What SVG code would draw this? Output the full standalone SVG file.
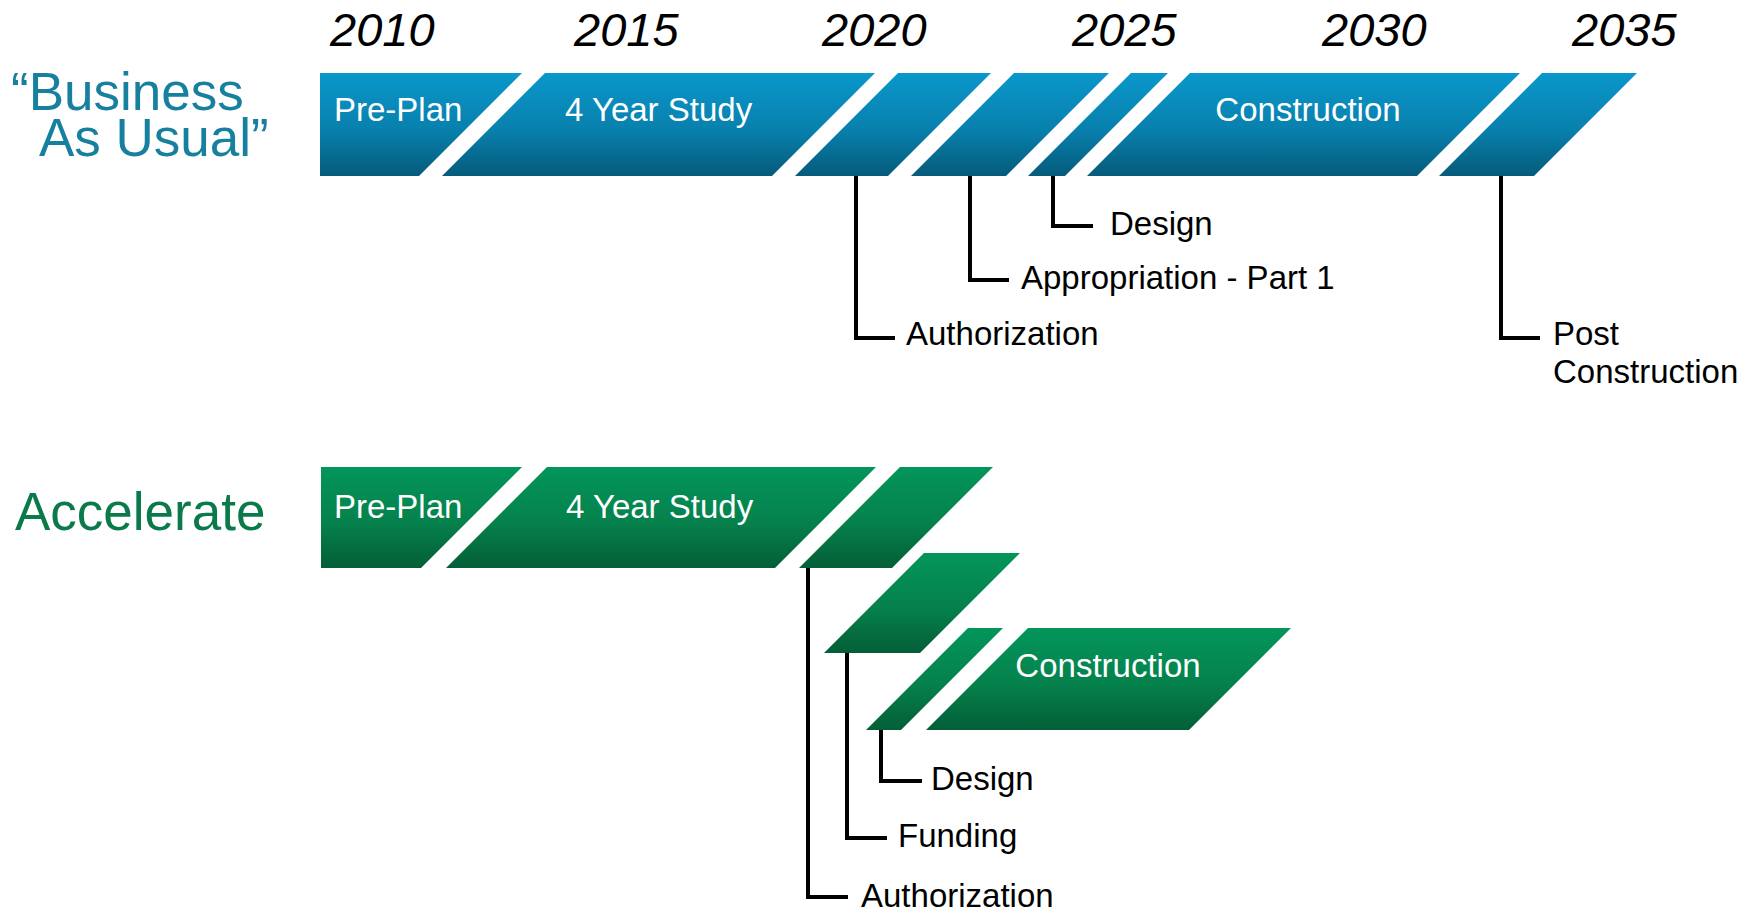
<svg xmlns="http://www.w3.org/2000/svg" width="1754" height="912" viewBox="0 0 1754 912">
<defs>
<linearGradient id="gBlue" x1="0" y1="0" x2="0" y2="1">
<stop offset="0" stop-color="#0a97cb"/>
<stop offset="0.55" stop-color="#0880ad"/>
<stop offset="1" stop-color="#055b7b"/>
</linearGradient>
<linearGradient id="gGreen" x1="0" y1="0" x2="0" y2="1">
<stop offset="0" stop-color="#03955b"/>
<stop offset="0.55" stop-color="#05814c"/>
<stop offset="1" stop-color="#045e37"/>
</linearGradient>
<style>
.blue{fill:url(#gBlue);}
.green{fill:url(#gGreen);}
.year{font-family:"Liberation Sans",Arial,sans-serif;font-style:italic;font-size:47px;fill:#000;}
.seg{font-family:"Liberation Sans",Arial,sans-serif;font-size:33px;fill:#fff;}
.lbl{font-family:"Liberation Sans",Arial,sans-serif;font-size:33px;fill:#000;}
.title{font-family:"Liberation Sans",Arial,sans-serif;font-size:53px;}
.conn{fill:none;stroke:#000;stroke-width:4;}
</style>
</defs>
<rect width="1754" height="912" fill="#fff"/>

<g id="years">
<text class="year" x="330" y="46">2010</text>
<text class="year" x="574" y="46">2015</text>
<text class="year" x="822" y="46">2020</text>
<text class="year" x="1072" y="46">2025</text>
<text class="year" x="1322" y="46">2030</text>
<text class="year" x="1572" y="46">2035</text>
</g>

<g id="title-bau">
<text class="title" fill="#17809f"><tspan x="11" y="110">“Business</tspan><tspan x="39" y="156">As Usual”</tspan></text>
</g>
<g id="title-acc">
<text class="title" fill="#0b7a4b" x="15" y="530">Accelerate</text>
</g>

<g id="bau-preplan"><polygon class="blue" points="320,73 522,73 419,176 320,176"/><text class="seg" x="334" y="121">Pre-Plan</text></g>
<g id="bau-study"><polygon class="blue" points="545,73 875,73 772,176 442,176"/><text class="seg" x="565" y="121">4 Year Study</text></g>
<g id="bau-auth"><polygon class="blue" points="898,73 991,73 888,176 795,176"/></g>
<g id="bau-approp"><polygon class="blue" points="1014,73 1109,73 1006,176 911,176"/></g>
<g id="bau-design"><polygon class="blue" points="1131,73 1168,73 1065,176 1028,176"/></g>
<g id="bau-construction"><polygon class="blue" points="1190,73 1520,73 1417,176 1087,176"/><text class="seg" x="1308" y="121" text-anchor="middle">Construction</text></g>
<g id="bau-post"><polygon class="blue" points="1542,73 1637,73 1534,176 1439,176"/></g>

<g id="acc-preplan"><polygon class="green" points="321,467 522,467 421,568 321,568"/><text class="seg" x="334" y="518">Pre-Plan</text></g>
<g id="acc-study"><polygon class="green" points="547,467 876,467 775,568 446,568"/><text class="seg" x="566" y="518">4 Year Study</text></g>
<g id="acc-auth"><polygon class="green" points="900,467 993,467 892,568 799,568"/></g>
<g id="acc-funding"><polygon class="green" points="924,553 1020,553 920,653 824,653"/></g>
<g id="acc-design"><polygon class="green" points="968,628 1003,628 901,730 866,730"/></g>
<g id="acc-construction"><polygon class="green" points="1028,628 1291,628 1189,730 926,730"/><text class="seg" x="1108" y="677" text-anchor="middle">Construction</text></g>

<g id="connectors">
<path class="conn" d="M856,176 V338 H895"/>
<path class="conn" d="M970,176 V280 H1009"/>
<path class="conn" d="M1053,176 V226 H1093"/>
<path class="conn" d="M1501,176 V338 H1540"/>
<path class="conn" d="M808,568 V897 H848"/>
<path class="conn" d="M847,653 V838 H887"/>
<path class="conn" d="M881,730 V781 H922"/>
</g>

<g id="label-bau-auth"><text class="lbl" x="906" y="345">Authorization</text></g>
<g id="label-bau-approp"><text class="lbl" x="1021" y="289">Appropriation - Part 1</text></g>
<g id="label-bau-design"><text class="lbl" x="1110" y="235">Design</text></g>
<g id="label-bau-post"><text class="lbl"><tspan x="1553" y="345">Post</tspan><tspan x="1553" y="383">Construction</tspan></text></g>
<g id="label-acc-auth"><text class="lbl" x="861" y="907">Authorization</text></g>
<g id="label-acc-funding"><text class="lbl" x="898" y="847">Funding</text></g>
<g id="label-acc-design"><text class="lbl" x="931" y="790">Design</text></g>
</svg>
